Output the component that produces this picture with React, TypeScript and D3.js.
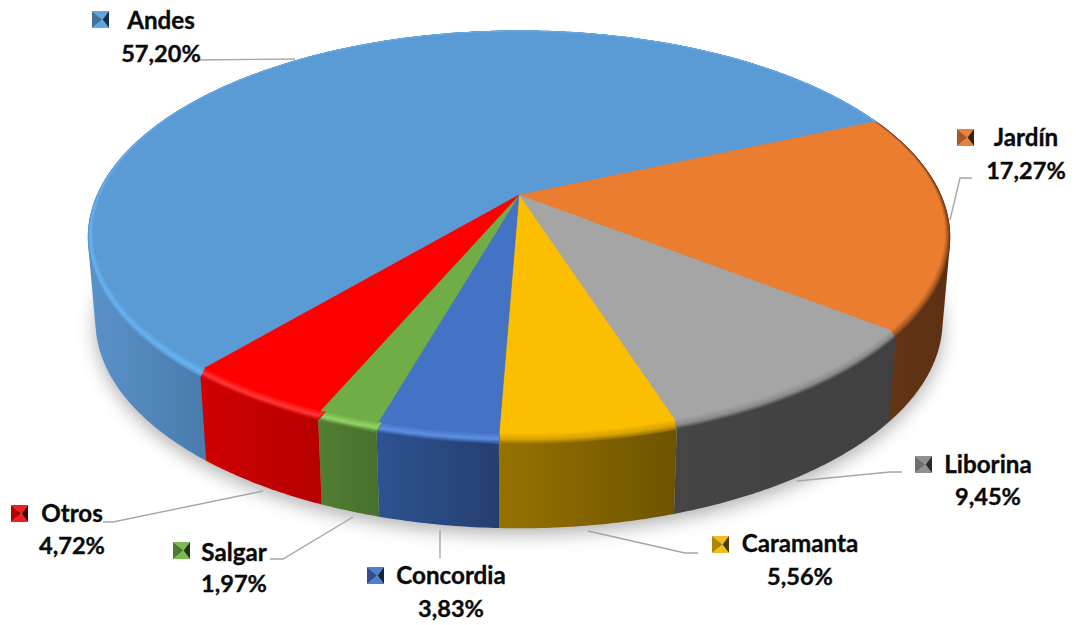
import React from "react";
import * as d3 from "d3";

const categories = ["Jardín", "Liborina", "Caramanta", "Concordia", "Salgar", "Otros", "Andes"];
const shares = [17.27, 9.45, 5.56, 3.83, 1.97, 4.72, 57.2];
const shareLabels = ["17,27%", "9,45%", "5,56%", "3,83%", "1,97%", "4,72%", "57,20%"];

const faceColors = ["#eb7d31", "#a5a5a5", "#fcbe00", "#4472c4", "#70ad47", "#ff0000", "#5b9bd5"];
const bevelColors = ["#a85a24", "#8c8c8c", "#d9a300", "#5f90e6", "#93d767", "#ff3b3b", "#68b3f5"];
const wallLeft = ["#633415", "#454545", "#967200", "#2e5392", "#527f34", "#d00000", "#5a92c9"];
const wallRight = ["#5c3013", "#404040", "#6e5400", "#253f70", "#47702c", "#b70000", "#4a7cae"];
const swatchLight = ["#e8823a", "#8f8f8f", "#f5bd1f", "#4d7fd6", "#79bb4e", "#f01e1e", "#5ea5e2"];
const swatchMid = ["#a85726", "#6f6f6f", "#b38600", "#30508a", "#4f7a32", "#b30000", "#41719c"];
const swatchDark = ["#3a1d0a", "#2a2a2a", "#4d3a00", "#14233f", "#223617", "#4a0000", "#16304a"];
const paintOrder = [6, 0, 1, 2, 3, 4, 5];

const labelLayout = [
  { swatchX: 957, swatchY: 129, textX: 1026, nameY: 146, shareY: 179, leader: [[972, 178], [960, 178], [950, 220]] },
  { swatchX: 915, swatchY: 456, textX: 988, nameY: 473, shareY: 505, leader: [[902, 472], [890, 472], [797, 481]] },
  { swatchX: 712, swatchY: 536, textX: 800, nameY: 552, shareY: 585, leader: [[698, 553], [685, 553], [588, 531]] },
  { swatchX: 367, swatchY: 567, textX: 451, nameY: 584, shareY: 617, leader: [[440, 558], [440, 530]] },
  { swatchX: 173, swatchY: 542, textX: 234, nameY: 561, shareY: 592, leader: [[270, 559], [283, 559], [353, 517]] },
  { swatchX: 11, swatchY: 505, textX: 72, nameY: 522, shareY: 554, leader: [[103, 522], [113, 522], [263, 491]] },
  { swatchX: 92, swatchY: 11, textX: 161, nameY: 29, shareY: 62, leader: [[197, 60], [295, 59]] },
];

const CX = 519;
const PERSPECTIVE = 0.188;
type Disc = { r: number; s: number; cy: number };
const faceDisc: Disc = { r: 418, s: 193.5, cy: 195 };
const rimDisc: Disc = { r: 423.5, s: 199.5, cy: 198.3 };
const baseDisc: Disc = { r: 416, s: 200, cy: 282 };
const SWATCH = 17;
const FONT = "Lato, 'Open Sans', sans-serif";

const project = (d: Disc, a: number): [number, number] => {
  const u = Math.sin(a);
  const v = -Math.cos(a);
  const w = 1 - PERSPECTIVE * v;
  return [CX + (d.r * u) / w, d.cy + (d.s * v) / w];
};
const discAt = (t: number): Disc => ({
  r: d3.interpolateNumber(faceDisc.r, rimDisc.r)(t),
  s: d3.interpolateNumber(faceDisc.s, rimDisc.s)(t),
  cy: d3.interpolateNumber(faceDisc.cy, rimDisc.cy)(t),
});
const angles = (a0: number, a1: number) => {
  const n = Math.max(2, Math.ceil(Math.abs(a1 - a0) / 0.01));
  return d3.range(n + 1).map((i) => a0 + ((a1 - a0) * i) / n);
};

const line = d3.line<[number, number]>().x((p) => p[0]).y((p) => p[1]);
const pieLayout = d3
  .pie<number>()
  .sort(null)
  .value((d) => d)
  .startAngle((66 * Math.PI) / 180)
  .endAngle((426 * Math.PI) / 180);

const LAYERS = d3.range(14).map((i) => 1 - i / 14);

export default function App() {
  const arcs = pieLayout(shares);
  const centre: [number, number] = [CX, faceDisc.cy];
  const wedge = (d: Disc, a0: number, a1: number) =>
    line([centre, ...angles(a0, a1).map((a) => project(d, a))]) + "Z";
  const wall = (a0: number, a1: number) => {
    const as = angles(a0, a1);
    const hull = d3.polygonHull([...as.map((a) => project(rimDisc, a)), ...as.map((a) => project(baseDisc, a))])!;
    return line(hull as [number, number][]) + "Z";
  };
  const visibleRange = (a0: number, a1: number) => {
    const xs = angles(a0, a1)
      .filter((a) => -Math.cos(a) > 0.12)
      .map((a) => project(rimDisc, a)[0]);
    return d3.extent(xs) as [number, number];
  };
  const painted = paintOrder.map((i) => ({ arc: arcs[i], i }));

  return (
    <svg
      width={1079}
      height={625}
      viewBox="0 0 1079 625"
      style={{ position: "absolute", left: 0, top: 0, display: "block", background: "#fff" }}
    >
      <defs>
        <filter id="ground" x="-10%" y="-10%" width="120%" height="130%">
          <feGaussianBlur stdDeviation="9" />
        </filter>
        {arcs.map((arc, i) => {
          const [x1, x2] = visibleRange(arc.startAngle, arc.endAngle);
          return (
            <linearGradient key={i} id={`wall${i}`} gradientUnits="userSpaceOnUse" x1={x1} x2={x2} y1={0} y2={0}>
              <stop offset="0" stopColor={wallLeft[i]} />
              <stop offset="1" stopColor={wallRight[i]} />
            </linearGradient>
          );
        })}
      </defs>

      <path
        d={line(angles(0, 2 * Math.PI).map((a) => {
          const p = project(baseDisc, a);
          return [p[0], p[1] + 6] as [number, number];
        })) + "Z"}
        fill="#000"
        fillOpacity={0.3}
        filter="url(#ground)"
      />

      {painted.map(({ arc, i }) => (
        <path key={i} d={wall(arc.startAngle, arc.endAngle)} fill={`url(#wall${i})`} />
      ))}

      {painted.map(({ arc, i }) => {
        const toWall = d3.interpolateRgb(bevelColors[i], wallLeft[i]);
        const toFace = d3.interpolateRgb(faceColors[i], bevelColors[i]);
        return (
          <g key={i}>
            {LAYERS.map((t) => (
              <path
                key={t}
                d={wedge(discAt(t), arc.startAngle, arc.endAngle)}
                fill={t > 0.6 ? toWall((t - 0.6) / 0.4) : toFace(t / 0.6)}
              />
            ))}
          </g>
        );
      })}
      {painted.map(({ arc, i }) => (
        <path
          key={i}
          d={wedge(faceDisc, arc.startAngle, arc.endAngle)}
          fill={faceColors[i]}
          stroke={faceColors[i]}
          strokeWidth={0.4}
        />
      ))}

      {labelLayout.map((l, i) => {
        const x = l.swatchX;
        const y = l.swatchY;
        const c: [number, number] = [x + SWATCH * 0.62, y + SWATCH / 2];
        const tl: [number, number] = [x, y];
        const tr: [number, number] = [x + SWATCH, y];
        const br: [number, number] = [x + SWATCH, y + SWATCH];
        const bl: [number, number] = [x, y + SWATCH];
        return (
          <g key={categories[i]}>
            <path d={line(l.leader as [number, number][]) as string} fill="none" stroke="#a6a6a6" strokeWidth={1.4} />
            <path d={line([tl, tr, c])! + "Z"} fill={swatchLight[i]} />
            <path d={line([bl, br, c])! + "Z"} fill={swatchLight[i]} />
            <path d={line([tl, bl, c])! + "Z"} fill={swatchMid[i]} />
            <path d={line([tr, br, c])! + "Z"} fill={swatchDark[i]} />
            <text x={l.textX} y={l.nameY} textAnchor="middle" fontFamily={FONT} fontWeight={700} fontSize={24.2} fill="#0a0a0a" stroke="#0a0a0a" strokeWidth={0.35}>
              {categories[i]}
            </text>
            <text x={l.textX} y={l.shareY} textAnchor="middle" fontFamily={FONT} fontWeight={700} fontSize={23.6} fill="#0a0a0a" stroke="#0a0a0a" strokeWidth={0.35}>
              {shareLabels[i]}
            </text>
          </g>
        );
      })}
    </svg>
  );
}
